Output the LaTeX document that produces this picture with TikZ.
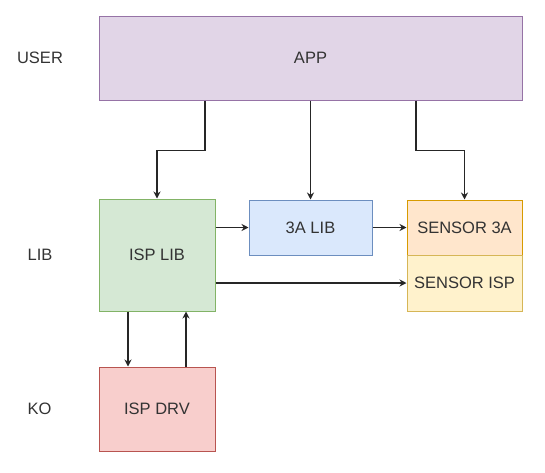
\documentclass[tikz,border=0pt]{standalone}
\usepackage{fontspec}
\setmainfont{Liberation Sans}
\usetikzlibrary{arrows.meta}
\definecolor{appfill}{HTML}{E1D5E7}\definecolor{appline}{HTML}{9673A6}
\definecolor{grnfill}{HTML}{D5E8D4}\definecolor{grnline}{HTML}{82B366}
\definecolor{blufill}{HTML}{DAE8FC}\definecolor{bluline}{HTML}{6C8EBF}
\definecolor{orgfill}{HTML}{FFE6CC}\definecolor{orgline}{HTML}{D79B00}
\definecolor{yelfill}{HTML}{FFF2CC}\definecolor{yelline}{HTML}{D6B656}
\definecolor{redfill}{HTML}{F8CECC}\definecolor{redline}{HTML}{B85450}
\definecolor{txt}{HTML}{333333}
\begin{document}
\begin{tikzpicture}[x=1pt,y=-1pt,
  box/.style={draw, line width=1pt, inner sep=0pt, text=txt, font=\fontsize{16.5}{19}\selectfont},
  lbl/.style={inner sep=0pt, text=txt, font=\fontsize{16.5}{19}\selectfont},
  arr/.style={-{Stealth[length=7pt,width=7pt]}, line width=1.3pt, draw=black!85}]
\useasboundingbox (0,0) rectangle (545,472);
\node[box, fill=appfill, draw=appline, minimum width=423pt, minimum height=84pt] (app) at (310.5,58) {APP};
\node[box, fill=grnfill, draw=grnline, minimum width=116pt, minimum height=112pt] (isplib) at (157,255) {ISP LIB};
\node[box, fill=blufill, draw=bluline, minimum width=123pt, minimum height=55pt] (tlib) at (310.5,227.5) {3A LIB};
\node[box, fill=orgfill, draw=orgline, minimum width=115pt, minimum height=55pt] (s3a) at (464.5,227.5) {SENSOR 3A};
\node[box, fill=yelfill, draw=yelline, minimum width=115pt, minimum height=56pt] (sisp) at (464.5,283) {SENSOR ISP};
\node[box, fill=redfill, draw=redline, minimum width=116pt, minimum height=84pt] (drv) at (157,409) {ISP DRV};
\node[lbl] (user) at (40,58) {USER};
\node[lbl] (lib) at (40,255) {LIB};
\node[lbl] (ko) at (39.5,409) {KO};
\draw[arr] ([xshift=-105.5pt]app.south) -- ++(0,50) -| (isplib.north);
\draw[arr] (app.south) -- (tlib.north);
\draw[arr] ([xshift=105.5pt]app.south) -- ++(0,50) -| (s3a.north);
\draw[arr] (isplib.east |- tlib.west) -- (tlib.west);
\draw[arr] (tlib.east) -- (s3a.west);
\draw[arr] (isplib.east |- sisp.west) -- (sisp.west);
\draw[arr] ([xshift=-29pt]isplib.south) -- ([xshift=-29pt]drv.north);
\draw[arr] ([xshift=29pt]drv.north) -- ([xshift=29pt]isplib.south);
\end{tikzpicture}
\end{document}
